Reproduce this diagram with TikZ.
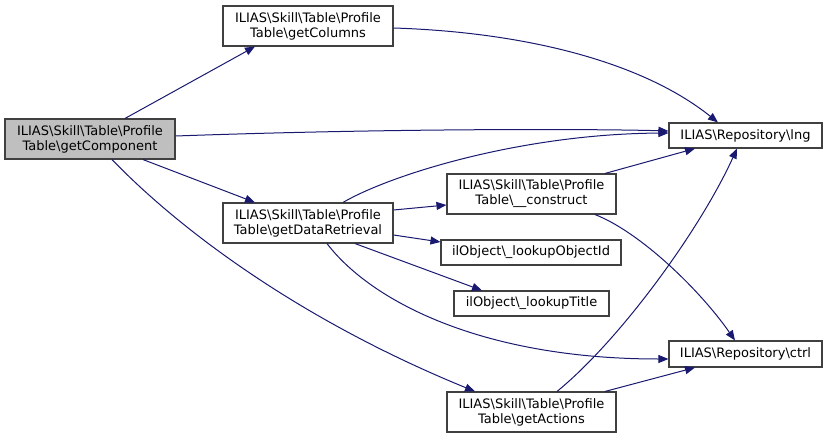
\documentclass[tikz,border=0pt]{standalone}
\usepackage{fontspec}
\setmainfont{DejaVu Sans}
\usetikzlibrary{arrows.meta}
\definecolor{edgecol}{HTML}{191970}
\definecolor{boxline}{HTML}{404040}
\definecolor{hilite}{HTML}{BFBFBF}
\newcommand{\bs}{\textbackslash}
\tikzset{
  fn/.style={draw=boxline, line width=1.1pt, fill=white, inner sep=0pt, align=center,
    font=\fontsize{13}{15}\selectfont},
  big/.style={fn, minimum width=170pt, minimum height=40pt},
  small/.style={fn, minimum height=25pt},
  call/.style={draw=edgecol, line width=1pt, -{Triangle[length=10pt,width=8pt]}, fill=none},
}
\begin{document}
\begin{tikzpicture}[x=1pt,y=-1pt]
\useasboundingbox (0,0) rectangle (828,439);
\node[big, fill=hilite] (comp) at (90,139) {ILIAS\bs Skill\bs Table\bs Profile\\Table\bs getComponent};
\node[big] (cols) at (308,26) {ILIAS\bs Skill\bs Table\bs Profile\\Table\bs getColumns};
\node[big] (data) at (308,223) {ILIAS\bs Skill\bs Table\bs Profile\\Table\bs getDataRetrieval};
\node[small, minimum width=153pt] (lng) at (745.5,135.5) {ILIAS\bs Repository\bs lng};
\node[big, minimum width=169pt] (cons) at (531.5,194) {ILIAS\bs Skill\bs Table\bs Profile\\Table\bs\_\_construct};
\node[small, minimum width=180pt] (objid) at (531,252.5) {ilObject\bs\_lookupObjectId};
\node[small, minimum width=155pt] (title) at (531.5,303.5) {ilObject\bs\_lookupTitle};
\node[small, minimum width=153pt, minimum height=26pt] (ctrl) at (745.5,354) {ILIAS\bs Repository\bs ctrl};
\node[big, minimum width=169pt] (act) at (531.5,412) {ILIAS\bs Skill\bs Table\bs Profile\\Table\bs getActions};

\draw[call] ([xshift=35pt]comp.north) -- ([xshift=-53pt]cols.south);
\draw[call] ([yshift=3pt]comp.east) .. controls (400,128) and (600,129) .. ([yshift=4.5pt]lng.west);
\draw[call] ([xshift=53pt]comp.south) -- ([xshift=-53pt]data.north);
\draw[call] ([xshift=22pt]comp.south) .. controls (180,230) and (300,320) .. ([xshift=-56.5pt]act.north);
\draw[call] ([yshift=-2pt]cols.east) .. controls (520,32) and (640,60) .. ([xshift=-27.5pt]lng.north);
\draw[call] ([xshift=35pt]data.north) .. controls (390,175) and (520,134) .. ([yshift=2.5pt]lng.west);
\draw[call] ([yshift=13pt]data.east) -- ([yshift=-11pt]cons.west);
\draw[call] ([yshift=-12pt]data.east) -- ([yshift=10.5pt]objid.west);
\draw[call] ([xshift=47pt]data.south) -- ([xshift=-49.5pt]title.north);
\draw[call] ([xshift=19pt]data.south) .. controls (370,300) and (480,359) .. ([yshift=-5pt]ctrl.west);
\draw[call] ([xshift=73.5pt]cons.north) -- ([xshift=-50.5pt]lng.south);
\draw[call] ([xshift=63.5pt]cons.south) .. controls (640,232) and (700,290) .. ([xshift=-10.5pt]ctrl.north);
\draw[call] ([xshift=25.5pt]act.north) .. controls (620,340) and (700,230) .. ([xshift=-8.5pt]lng.south);
\draw[call] ([xshift=73.5pt]act.north) -- ([xshift=-50.5pt]ctrl.south);
\end{tikzpicture}
\end{document}
